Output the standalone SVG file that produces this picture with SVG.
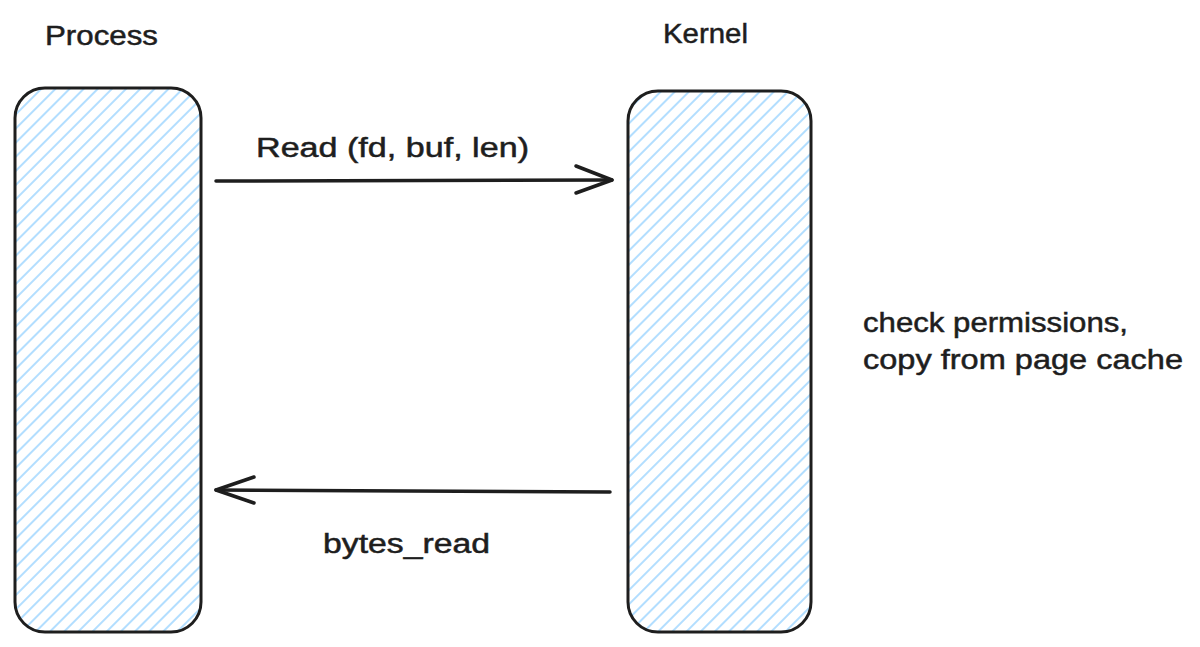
<svg xmlns="http://www.w3.org/2000/svg" width="1200" height="647" viewBox="0 0 1200 647">
<defs>
<pattern id="hatch" patternUnits="userSpaceOnUse" width="10" height="10" patternTransform="rotate(45)">
<line x1="2" y1="0" x2="2" y2="10" stroke="#a5d8ff" stroke-width="1.7"/>
</pattern>
</defs>
<style>
.box{fill:url(#hatch);stroke:#1e1e1e;stroke-width:3}
.t{font-family:"Liberation Sans","DejaVu Sans",sans-serif;fill:#1e1e1e;stroke:#1e1e1e;stroke-width:0.5}
.edge{stroke:#1e1e1e;stroke-width:3.5;fill:none;stroke-linecap:round;stroke-linejoin:round}
</style>
<rect width="1200" height="647" fill="#ffffff"/>
<g id="process">
<rect class="box" x="15" y="88" width="186" height="544" rx="30"/>
<text class="t" x="45" y="45" font-size="28" textLength="113" lengthAdjust="spacingAndGlyphs">Process</text>
</g>
<g id="kernel">
<rect class="box" x="628" y="91" width="183" height="541" rx="30"/>
<text class="t" x="663" y="43" font-size="28" textLength="85" lengthAdjust="spacingAndGlyphs">Kernel</text>
</g>
<g id="note">
<text class="t" x="863" y="332" font-size="27" textLength="265" lengthAdjust="spacingAndGlyphs">check permissions,</text>
<text class="t" x="863" y="369" font-size="27" textLength="320" lengthAdjust="spacingAndGlyphs">copy from page cache</text>
</g>
<g id="connectors">
<path class="edge" d="M216 181 L612 180"/>
<path class="edge" d="M576 166 L612 180 L576 193"/>
<text class="t" x="256" y="157" font-size="27" textLength="273" lengthAdjust="spacingAndGlyphs">Read (fd, buf, len)</text>
<path class="edge" d="M610 492 L216 490" stroke-width="4"/>
<path class="edge" d="M254 477 L216 490 L254 503"/>
<text class="t" x="323" y="553" font-size="27" textLength="167" lengthAdjust="spacingAndGlyphs">bytes_read</text>
</g>
</svg>
